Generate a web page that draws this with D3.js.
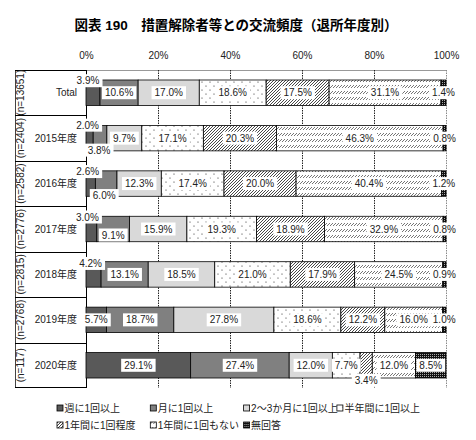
<!DOCTYPE html>
<html>
<head>
<meta charset="utf-8">
<script src="https://cdn.jsdelivr.net/npm/d3@7"></script>
<style>
  body { margin: 0; background: #fff; }
  text { font-family: "Liberation Sans", Arial, "Noto Sans CJK JP", sans-serif; fill: #222; }
</style>
</head>
<body>
<script>
const categories = ['Total', '2015年度', '2016年度', '2017年度', '2018年度', '2019年度', '2020年度'];
const sampleSizes = ['(n=13651)', '(n=2404)', '(n=2582)', '(n=2776)', '(n=2815)', '(n=2768)', '(n=117)'];
const seriesNames = ['週に1回以上', '月に1回以上', '2～3か月に1回以上', '半年間に1回以上', '1年間に1回程度', '1年間に1回もない', '無回答'];

const weekly = [3.9, 2.0, 2.6, 3.0, 4.2, 5.7, 29.1];
const monthly = [10.6, 3.8, 6.0, 9.1, 13.1, 18.7, 27.4];
const everyFewMonths = [17.0, 9.7, 12.3, 15.9, 18.5, 27.8, 12.0];
const halfYear = [18.6, 17.1, 17.4, 19.3, 21.0, 18.6, 7.7];
const onceAYear = [17.5, 20.3, 20.0, 18.9, 17.9, 12.2, 3.4];
const never = [31.1, 46.3, 40.4, 32.9, 24.5, 16.0, 12.0];
const noAnswer = [1.4, 0.8, 1.2, 0.8, 0.9, 1.0, 8.5];

const tickValues = [0, 20, 40, 60, 80, 100];

const series = [weekly, monthly, everyFewMonths, halfYear, onceAYear, never, noAnswer];
const rows = categories.map((c, i) => {
  const r = { category: c };
  seriesNames.forEach((s, j) => { r[s] = series[j][i]; });
  return r;
});

const width = 476;
const height = 440;

const svg = d3.select('body')
  .append('svg')
  .attr('width', width)
  .attr('height', height);

// パターン
const defs = svg.append('defs');

const dots = defs.append('pattern').attr('id', 'dots')
  .attr('patternUnits', 'userSpaceOnUse').attr('width', 8).attr('height', 8);
dots.append('rect').attr('width', 8).attr('height', 8).attr('fill', '#fff');
dots.append('circle').attr('cx', 2).attr('cy', 2).attr('r', 0.6).attr('fill', '#222');
dots.append('circle').attr('cx', 6).attr('cy', 6).attr('r', 0.6).attr('fill', '#222');

const hatch = defs.append('pattern').attr('id', 'hatch')
  .attr('patternUnits', 'userSpaceOnUse').attr('width', 3).attr('height', 3);
hatch.append('rect').attr('width', 3).attr('height', 3).attr('fill', '#fff');
hatch.append('path').attr('d', 'M-1,1 l2,-2 M0,3 l3,-3 M2,4 l2,-2')
  .attr('stroke', '#333').attr('stroke-width', 0.9);

const dashHatch = defs.append('pattern').attr('id', 'dashHatch')
  .attr('patternUnits', 'userSpaceOnUse').attr('width', 3).attr('height', 6);
dashHatch.append('rect').attr('width', 3).attr('height', 6).attr('fill', '#fff');
dashHatch.append('path').attr('d', 'M0,4 l3,-3')
  .attr('stroke', '#666').attr('stroke-width', 0.9);

const checker = defs.append('pattern').attr('id', 'checker')
  .attr('patternUnits', 'userSpaceOnUse').attr('width', 2).attr('height', 2);
checker.append('rect').attr('width', 2).attr('height', 2).attr('fill', '#111');
checker.append('rect').attr('width', 1).attr('height', 1).attr('fill', '#aaa');

const fills = ['#595959', '#808080', '#d9d9d9', 'url(#dots)', 'url(#hatch)', 'url(#dashHatch)', 'url(#checker)'];

// タイトル
svg.append('text')
  .attr('x', 236)
  .attr('y', 30)
  .attr('text-anchor', 'middle')
  .attr('font-size', 13.5)
  .attr('font-weight', 'bold')
  .style('fill', '#000')
  .text('図表 190　措置解除者等との交流頻度（退所年度別）');

const x = d3.scaleLinear().domain([0, 1]).range([86, 446]);
const y = d3.scaleBand().domain(categories).range([70, 388]).paddingInner(0.44).paddingOuter(0.22);

const stacked = d3.stack().keys(seriesNames).offset(d3.stackOffsetExpand)(rows);

// 目盛りとグリッド
svg.append('g')
  .attr('transform', 'translate(0,62)')
  .call(d3.axisTop(x).tickValues(tickValues.map(t => t / 100)).tickFormat(d => Math.round(d * 100) + '%').tickSize(0))
  .call(g => g.select('.domain').remove())
  .call(g => g.selectAll('text').attr('font-size', 10).attr('font-family', null));

svg.append('line')
  .attr('x1', 86).attr('x2', 446).attr('y1', 70.5).attr('y2', 70.5)
  .attr('stroke', '#999');

svg.selectAll('.grid')
  .data(tickValues.slice(1))
  .enter()
  .append('line')
  .attr('class', 'grid')
  .attr('x1', d => x(d / 100) + 0.5).attr('x2', d => x(d / 100) + 0.5)
  .attr('y1', 70).attr('y2', 388)
  .attr('stroke', d => d === 100 ? '#888' : '#222')
  .attr('stroke-dasharray', '1.5,1');

// 左側の見出し
const head = svg.append('g');
head.append('line').attr('x1', 86.5).attr('x2', 86.5).attr('y1', 70).attr('y2', 388).attr('stroke', '#000');
head.append('line').attr('x1', 15.5).attr('x2', 15.5).attr('y1', 70).attr('y2', 388).attr('stroke', '#444');
head.selectAll('.sep')
  .data(categories)
  .enter()
  .append('line')
  .attr('x1', 15).attr('x2', 86)
  .attr('y1', d => Math.round(y(d) - y.step() * y.paddingInner() / 2) + 0.5)
  .attr('y2', d => Math.round(y(d) - y.step() * y.paddingInner() / 2) + 0.5)
  .attr('stroke', '#000');
head.append('line').attr('x1', 15).attr('x2', 86).attr('y1', 387.5).attr('y2', 387.5).attr('stroke', '#000');

head.selectAll('.cat')
  .data(categories)
  .enter()
  .append('text')
  .attr('x', 77)
  .attr('y', d => y(d) + y.bandwidth() / 2 + 3.5)
  .attr('text-anchor', 'end')
  .attr('font-size', 10)
  .text(d => d);

head.selectAll('.n')
  .data(sampleSizes)
  .enter()
  .append('text')
  .attr('transform', (d, i) => `translate(24,${y(categories[i]) + y.bandwidth() / 2}) rotate(-90)`)
  .attr('text-anchor', 'middle')
  .attr('font-size', 10)
  .text(d => d);

// 帯
const layers = svg.selectAll('.layer')
  .data(stacked)
  .enter()
  .append('g')
  .attr('class', 'layer')
  .attr('fill', (d, i) => fills[i]);

layers.selectAll('rect')
  .data(d => d)
  .enter()
  .append('rect')
  .attr('x', d => x(d[0]))
  .attr('y', d => y(d.data.category))
  .attr('width', d => x(d[1]) - x(d[0]))
  .attr('height', y.bandwidth())
  .attr('stroke', '#000')
  .attr('stroke-width', 0.8);

// 小さい値のラベル位置調整
const nudge = {
  'Total|0': [-5, -12],
  '2015年度|0': [-2, -13], '2015年度|1': [-1, 12],
  '2016年度|0': [-3, -12], '2016年度|1': [-2, 12],
  '2017年度|0': [-4, -12], '2017年度|1': [0, 6],
  '2018年度|0': [-3, -11],
  '2020年度|4': [0, 15]
};

const labels = [];
stacked.forEach((layer, j) => {
  layer.forEach(d => {
    const key = d.data.category + '|' + j;
    const off = nudge[key] || [0, 0];
    labels.push({
      text: series[j][categories.indexOf(d.data.category)].toFixed(1) + '%',
      cx: (x(d[0]) + x(d[1])) / 2 + off[0],
      cy: y(d.data.category) + y.bandwidth() / 2 + off[1]
    });
  });
});

const lab = svg.selectAll('.lab')
  .data(labels)
  .enter()
  .append('g')
  .attr('class', 'lab')
  .attr('transform', d => `translate(${d.cx},${d.cy})`);

lab.append('rect').attr('fill', '#fff');
lab.append('text')
  .attr('text-anchor', 'middle')
  .attr('dy', 3.6)
  .attr('font-size', 10)
  .text(d => d.text);

lab.each(function () {
  const g = d3.select(this);
  const b = g.select('text').node().getBBox();
  g.select('rect')
    .attr('x', b.x - 3).attr('y', -6.5)
    .attr('width', b.width + 6).attr('height', 13);
});

// 凡例
const legend = svg.selectAll('.legend')
  .data(seriesNames)
  .enter()
  .append('g')
  .attr('class', 'legend')
  .attr('transform', (d, i) => `translate(${57 + (i % 4) * 93.3},${i < 4 ? 409 : 426})`);

legend.append('rect')
  .attr('x', 0).attr('y', -4)
  .attr('width', 6).attr('height', 6)
  .attr('fill', (d, i) => fills[i])
  .attr('stroke', '#000')
  .attr('stroke-width', 0.8);

legend.append('text')
  .attr('x', 7.5)
  .attr('y', 3)
  .attr('font-size', 10)
  .text(d => d);
</script>
</body>
</html>
